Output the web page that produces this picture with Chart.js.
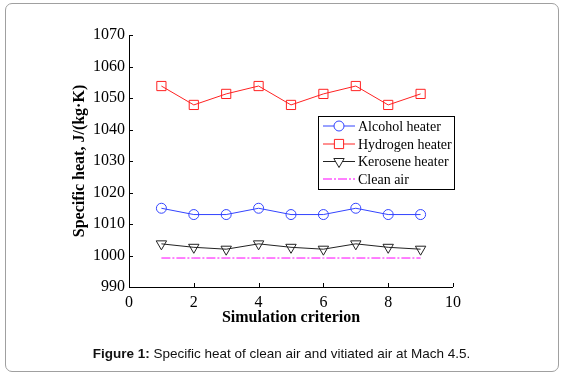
<!DOCTYPE html>
<html>
<head>
<meta charset="utf-8">
<script src="https://cdn.jsdelivr.net/npm/chart.js@4/dist/chart.umd.min.js"></script>
<style>
  html, body { margin: 0; padding: 0; background: #fff; }
  body { width: 563px; height: 378px; position: relative; overflow: hidden; }
  #frame { position: absolute; left: 5px; top: 3px; width: 554px; height: 369px; border: 1px solid #a0a0a0; border-radius: 7px; box-sizing: border-box; }
  #wrap { position: absolute; left: 0; top: 0; width: 563px; height: 378px; }
  #caption { position: absolute; left: 0; width: 563px; top: 346px; text-align: center; font-family: "Liberation Sans", Arial, sans-serif; font-size: 13.5px; color: #111; }
</style>
</head>
<body>
<div id="frame"></div>
<div id="wrap"><canvas id="c" width="563" height="378"></canvas></div>
<div id="caption"><b>Figure 1:</b> Specific heat of clean air and vitiated air at Mach 4.5.</div>
<script>
const criteria = [1, 2, 3, 4, 5, 6, 7, 8, 9];
const alcohol  = [1015, 1013, 1013, 1015, 1013, 1013, 1015, 1013, 1013];
const hydrogen = [1053.8, 1047.8, 1051.3, 1053.8, 1047.8, 1051.3, 1053.8, 1047.8, 1051.3];
const kerosene = [1003.7, 1002.6, 1002.0, 1003.7, 1002.6, 1002.0, 1003.7, 1002.6, 1002.0];
const cleanAir = [999.2, 999.2, 999.2, 999.2, 999.2, 999.2, 999.2, 999.2, 999.2];
const seriesNames = ["Alcohol heater", "Hydrogen heater", "Kerosene heater", "Clean air"];
const xTicks = [0, 2, 4, 6, 8, 10];
const yTicks = [990, 1000, 1010, 1020, 1030, 1040, 1050, 1060, 1070];

const toXY = arr => arr.map((v, i) => ({x: criteria[i], y: v}));
const serif = "'Liberation Serif', 'Times New Roman', serif";

const datasets = [
  {label: seriesNames[0], data: toXY(alcohol), borderColor: '#3344ff', backgroundColor: 'rgba(0,0,0,0)',
   borderWidth: 1, pointStyle: 'circle', pointRadius: 5, pointBorderWidth: 1, pointBorderColor: '#3344ff', pointBackgroundColor: 'rgba(0,0,0,0)'},
  {label: seriesNames[1], data: toXY(hydrogen), borderColor: '#ff2222', backgroundColor: 'rgba(0,0,0,0)',
   borderWidth: 1, pointStyle: 'rect', pointRadius: 6.5, pointBorderWidth: 1, pointBorderColor: '#ff2222', pointBackgroundColor: 'rgba(0,0,0,0)'},
  {label: seriesNames[2], data: toXY(kerosene), borderColor: '#222', backgroundColor: 'rgba(0,0,0,0)',
   borderWidth: 1, pointStyle: 'triangle', pointRotation: 180, pointRadius: 6, pointBorderWidth: 1, pointBorderColor: '#222', pointBackgroundColor: 'rgba(0,0,0,0)'},
  {label: seriesNames[3], data: toXY(cleanAir), borderColor: '#ff00ff', backgroundColor: 'rgba(0,0,0,0)',
   borderWidth: 1, borderDash: [9, 2, 2, 2], pointRadius: 0}
];

const inwardTicks = {
  id: 'inwardTicks',
  afterDraw(chart) {
    const ctx = chart.ctx, xs = chart.scales.x, ys = chart.scales.y, a = chart.chartArea;
    ctx.save();
    ctx.strokeStyle = '#000'; ctx.lineWidth = 1;
    ctx.beginPath();
    ctx.moveTo(a.left + 0.5, a.top); ctx.lineTo(a.left + 0.5, a.bottom + 0.5); ctx.lineTo(a.right, a.bottom + 0.5);
    xTicks.forEach(t => { const px = Math.round(xs.getPixelForValue(t)) + 0.5; ctx.moveTo(px, a.bottom); ctx.lineTo(px, a.bottom - 4); });
    yTicks.forEach(t => { const py = Math.round(ys.getPixelForValue(t)) + 0.5; ctx.moveTo(a.left, py); ctx.lineTo(a.left + 4, py); });
    ctx.stroke();
    // legend box
    const lx = 318.5, ly = 116.5, lw = 136, lh = 73;
    ctx.fillStyle = '#fff';
    ctx.fillRect(lx, ly, lw, lh);
    ctx.strokeRect(lx, ly, lw, lh);
    ctx.font = "14px " + serif;
    ctx.textBaseline = 'middle';
    const rowY = [126, 144, 161.5, 179];
    datasets.forEach((ds, i) => {
      const y = rowY[i];
      ctx.strokeStyle = ds.borderColor;
      ctx.setLineDash(ds.borderDash || []);
      ctx.beginPath(); ctx.moveTo(323, y); ctx.lineTo(355, y); ctx.stroke();
      ctx.setLineDash([]);
      if (ds.pointRadius > 0) {
        ctx.fillStyle = '#fff';
        ctx.strokeStyle = ds.borderColor;
        Chart.helpers.drawPoint(ctx, {pointStyle: ds.pointStyle, rotation: ds.pointRotation || 0, radius: ds.pointRadius, borderWidth: 1}, 339, y);
      }
      ctx.fillStyle = '#000';
      ctx.fillText(ds.label, 358, y + 1);
    });
    ctx.restore();
  }
};

new Chart(document.getElementById('c'), {
  type: 'line',
  data: {datasets},
  options: {
    responsive: false,
    animation: false,
    layout: {padding: {left: 70, right: 110, top: 35, bottom: 51}},
    plugins: {legend: {display: false}, tooltip: {enabled: false}},
    scales: {
      x: {
        type: 'linear', min: 0, max: 10,
        afterBuildTicks: s => { s.ticks = xTicks.map(v => ({value: v})); },
        afterFit: s => { s.height = 40; },
        grid: {display: false, drawTicks: false},
        border: {display: false},
        ticks: {color: '#000', font: {family: serif, size: 16}, padding: 6, maxRotation: 0, callback: v => String(v)},
        title: {display: true, text: 'Simulation criterion', color: '#000', font: {family: serif, size: 16, weight: 'bold'}, padding: 0}
      },
      y: {
        type: 'linear', min: 990, max: 1070,
        afterBuildTicks: s => { s.ticks = yTicks.map(v => ({value: v})); },
        afterFit: s => { s.width = 59; },
        grid: {display: false, drawTicks: false},
        border: {display: false},
        ticks: {color: '#000', font: {family: serif, size: 16}, padding: 4, callback: v => String(v)},
        title: {display: true, text: 'Specific heat, J/(kg·K)', color: '#000', font: {family: serif, size: 16, weight: 'bold'}, padding: 0}
      }
    }
  },
  plugins: [inwardTicks]
});
</script>
</body>
</html>
